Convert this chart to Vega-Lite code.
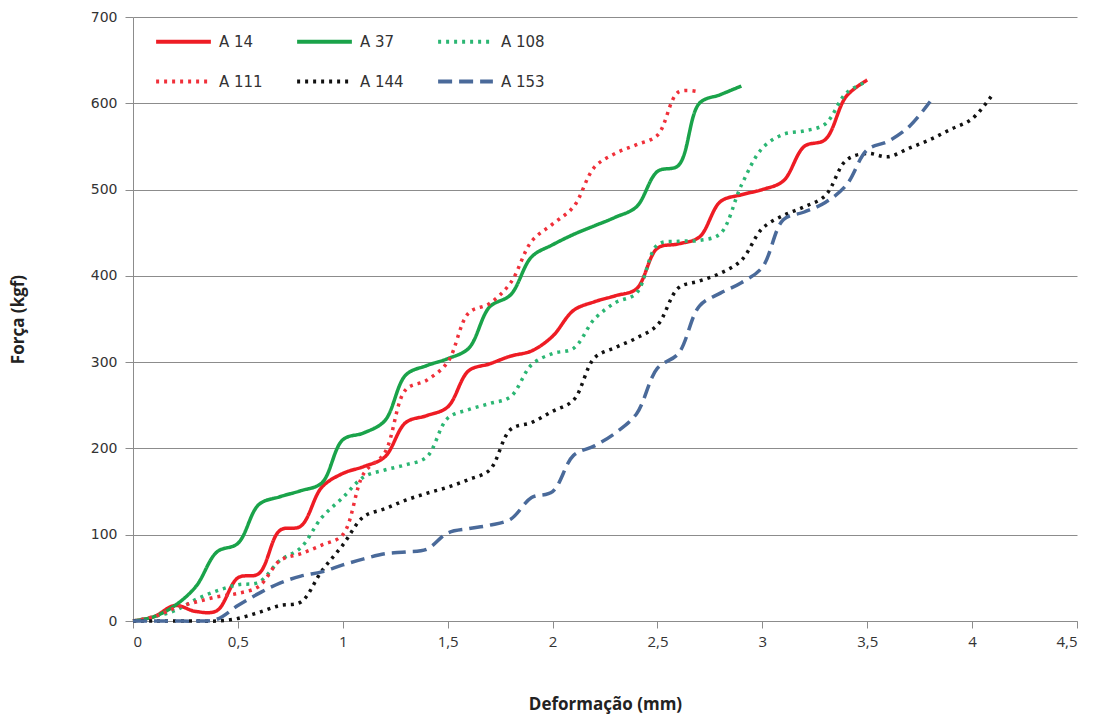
{
  "$schema": "https://vega.github.io/schema/vega-lite/v6.json",
  "width": 944,
  "height": 604,
  "autosize": {"type": "none"},
  "padding": {"left": 133, "top": 17, "right": 18, "bottom": 101},
  "background": "white",
  "config": {"view": {"stroke": null}},
  "data": {"values": [
    {"s":"A 14","x":0,"y":0},{"s":"A 14","x":0.1,"y":5},{"s":"A 14","x":0.2,"y":18},{"s":"A 14","x":0.3,"y":11},{"s":"A 14","x":0.4,"y":12},{"s":"A 14","x":0.5,"y":50},{"s":"A 14","x":0.6,"y":55},{"s":"A 14","x":0.7,"y":105},{"s":"A 14","x":0.8,"y":110},{"s":"A 14","x":0.9,"y":155},{"s":"A 14","x":1.0,"y":171},{"s":"A 14","x":1.1,"y":179},{"s":"A 14","x":1.2,"y":190},{"s":"A 14","x":1.3,"y":230},{"s":"A 14","x":1.4,"y":238},{"s":"A 14","x":1.5,"y":248},{"s":"A 14","x":1.6,"y":290},{"s":"A 14","x":1.7,"y":298},{"s":"A 14","x":1.8,"y":307},{"s":"A 14","x":1.9,"y":313},{"s":"A 14","x":2.0,"y":330},{"s":"A 14","x":2.1,"y":360},{"s":"A 14","x":2.2,"y":370},{"s":"A 14","x":2.3,"y":377},{"s":"A 14","x":2.4,"y":385},{"s":"A 14","x":2.5,"y":432},{"s":"A 14","x":2.6,"y":437},{"s":"A 14","x":2.7,"y":445},{"s":"A 14","x":2.8,"y":486},{"s":"A 14","x":2.9,"y":494},{"s":"A 14","x":3.0,"y":500},{"s":"A 14","x":3.1,"y":510},{"s":"A 14","x":3.2,"y":550},{"s":"A 14","x":3.3,"y":558},{"s":"A 14","x":3.4,"y":608},{"s":"A 14","x":3.5,"y":627},
    {"s":"A 37","x":0,"y":0},{"s":"A 37","x":0.1,"y":5},{"s":"A 37","x":0.2,"y":18},{"s":"A 37","x":0.3,"y":40},{"s":"A 37","x":0.4,"y":80},{"s":"A 37","x":0.5,"y":90},{"s":"A 37","x":0.6,"y":135},{"s":"A 37","x":0.7,"y":144},{"s":"A 37","x":0.8,"y":151},{"s":"A 37","x":0.9,"y":160},{"s":"A 37","x":1.0,"y":210},{"s":"A 37","x":1.1,"y":218},{"s":"A 37","x":1.2,"y":232},{"s":"A 37","x":1.3,"y":285},{"s":"A 37","x":1.4,"y":296},{"s":"A 37","x":1.5,"y":304},{"s":"A 37","x":1.6,"y":316},{"s":"A 37","x":1.7,"y":364},{"s":"A 37","x":1.8,"y":378},{"s":"A 37","x":1.9,"y":422},{"s":"A 37","x":2.0,"y":436},{"s":"A 37","x":2.1,"y":448},{"s":"A 37","x":2.2,"y":458},{"s":"A 37","x":2.3,"y":468},{"s":"A 37","x":2.4,"y":480},{"s":"A 37","x":2.5,"y":521},{"s":"A 37","x":2.6,"y":528},{"s":"A 37","x":2.7,"y":600},{"s":"A 37","x":2.8,"y":610},{"s":"A 37","x":2.9,"y":620},
    {"s":"A 108","x":0,"y":0},{"s":"A 108","x":0.1,"y":5},{"s":"A 108","x":0.2,"y":12},{"s":"A 108","x":0.3,"y":25},{"s":"A 108","x":0.4,"y":35},{"s":"A 108","x":0.5,"y":42},{"s":"A 108","x":0.6,"y":45},{"s":"A 108","x":0.7,"y":70},{"s":"A 108","x":0.8,"y":85},{"s":"A 108","x":0.9,"y":120},{"s":"A 108","x":1.0,"y":143},{"s":"A 108","x":1.1,"y":167},{"s":"A 108","x":1.2,"y":175},{"s":"A 108","x":1.3,"y":181},{"s":"A 108","x":1.4,"y":190},{"s":"A 108","x":1.5,"y":235},{"s":"A 108","x":1.6,"y":245},{"s":"A 108","x":1.7,"y":252},{"s":"A 108","x":1.8,"y":260},{"s":"A 108","x":1.9,"y":297},{"s":"A 108","x":2.0,"y":310},{"s":"A 108","x":2.1,"y":316},{"s":"A 108","x":2.2,"y":350},{"s":"A 108","x":2.3,"y":369},{"s":"A 108","x":2.4,"y":380},{"s":"A 108","x":2.5,"y":436},{"s":"A 108","x":2.6,"y":440},{"s":"A 108","x":2.7,"y":441},{"s":"A 108","x":2.8,"y":449},{"s":"A 108","x":2.9,"y":505},{"s":"A 108","x":3.0,"y":548},{"s":"A 108","x":3.1,"y":564},{"s":"A 108","x":3.2,"y":568},{"s":"A 108","x":3.3,"y":576},{"s":"A 108","x":3.4,"y":612},{"s":"A 108","x":3.5,"y":625},
    {"s":"A 111","x":0,"y":0},{"s":"A 111","x":0.1,"y":5},{"s":"A 111","x":0.2,"y":15},{"s":"A 111","x":0.3,"y":22},{"s":"A 111","x":0.4,"y":28},{"s":"A 111","x":0.5,"y":32},{"s":"A 111","x":0.6,"y":40},{"s":"A 111","x":0.7,"y":70},{"s":"A 111","x":0.8,"y":78},{"s":"A 111","x":0.9,"y":88},{"s":"A 111","x":1.0,"y":100},{"s":"A 111","x":1.1,"y":171},{"s":"A 111","x":1.2,"y":195},{"s":"A 111","x":1.3,"y":268},{"s":"A 111","x":1.4,"y":279},{"s":"A 111","x":1.5,"y":300},{"s":"A 111","x":1.6,"y":357},{"s":"A 111","x":1.7,"y":368},{"s":"A 111","x":1.8,"y":392},{"s":"A 111","x":1.9,"y":440},{"s":"A 111","x":2.0,"y":460},{"s":"A 111","x":2.1,"y":480},{"s":"A 111","x":2.2,"y":526},{"s":"A 111","x":2.3,"y":542},{"s":"A 111","x":2.4,"y":552},{"s":"A 111","x":2.5,"y":563},{"s":"A 111","x":2.6,"y":613},{"s":"A 111","x":2.7,"y":613},
    {"s":"A 144","x":0,"y":0},{"s":"A 144","x":0.1,"y":0},{"s":"A 144","x":0.2,"y":0},{"s":"A 144","x":0.3,"y":0},{"s":"A 144","x":0.4,"y":0},{"s":"A 144","x":0.5,"y":3},{"s":"A 144","x":0.6,"y":10},{"s":"A 144","x":0.7,"y":18},{"s":"A 144","x":0.8,"y":22},{"s":"A 144","x":0.9,"y":58},{"s":"A 144","x":1.0,"y":88},{"s":"A 144","x":1.1,"y":121},{"s":"A 144","x":1.2,"y":130},{"s":"A 144","x":1.3,"y":140},{"s":"A 144","x":1.4,"y":148},{"s":"A 144","x":1.5,"y":155},{"s":"A 144","x":1.6,"y":164},{"s":"A 144","x":1.7,"y":175},{"s":"A 144","x":1.8,"y":222},{"s":"A 144","x":1.9,"y":230},{"s":"A 144","x":2.0,"y":243},{"s":"A 144","x":2.1,"y":256},{"s":"A 144","x":2.2,"y":305},{"s":"A 144","x":2.3,"y":317},{"s":"A 144","x":2.4,"y":328},{"s":"A 144","x":2.5,"y":343},{"s":"A 144","x":2.6,"y":386},{"s":"A 144","x":2.7,"y":394},{"s":"A 144","x":2.8,"y":403},{"s":"A 144","x":2.9,"y":418},{"s":"A 144","x":3.0,"y":455},{"s":"A 144","x":3.1,"y":470},{"s":"A 144","x":3.2,"y":480},{"s":"A 144","x":3.3,"y":493},{"s":"A 144","x":3.4,"y":534},{"s":"A 144","x":3.5,"y":542},{"s":"A 144","x":3.6,"y":538},{"s":"A 144","x":3.7,"y":548},{"s":"A 144","x":3.8,"y":558},{"s":"A 144","x":3.9,"y":570},{"s":"A 144","x":4.0,"y":582},{"s":"A 144","x":4.1,"y":611},
    {"s":"A 153","x":0,"y":0},{"s":"A 153","x":0.1,"y":0},{"s":"A 153","x":0.2,"y":0},{"s":"A 153","x":0.3,"y":0},{"s":"A 153","x":0.4,"y":2},{"s":"A 153","x":0.5,"y":18},{"s":"A 153","x":0.6,"y":32},{"s":"A 153","x":0.7,"y":44},{"s":"A 153","x":0.8,"y":52},{"s":"A 153","x":0.9,"y":57},{"s":"A 153","x":1.0,"y":65},{"s":"A 153","x":1.1,"y":72},{"s":"A 153","x":1.2,"y":78},{"s":"A 153","x":1.3,"y":80},{"s":"A 153","x":1.4,"y":83},{"s":"A 153","x":1.5,"y":102},{"s":"A 153","x":1.6,"y":107},{"s":"A 153","x":1.7,"y":111},{"s":"A 153","x":1.8,"y":118},{"s":"A 153","x":1.9,"y":143},{"s":"A 153","x":2.0,"y":150},{"s":"A 153","x":2.1,"y":192},{"s":"A 153","x":2.2,"y":203},{"s":"A 153","x":2.3,"y":218},{"s":"A 153","x":2.4,"y":240},{"s":"A 153","x":2.5,"y":293},{"s":"A 153","x":2.6,"y":310},{"s":"A 153","x":2.7,"y":365},{"s":"A 153","x":2.8,"y":380},{"s":"A 153","x":2.9,"y":392},{"s":"A 153","x":3.0,"y":410},{"s":"A 153","x":3.1,"y":465},{"s":"A 153","x":3.2,"y":474},{"s":"A 153","x":3.3,"y":485},{"s":"A 153","x":3.4,"y":505},{"s":"A 153","x":3.5,"y":546},{"s":"A 153","x":3.6,"y":556},{"s":"A 153","x":3.7,"y":573},{"s":"A 153","x":3.8,"y":602}
  ]},
  "mark": {"type": "line", "interpolate": "catmull-rom", "strokeWidth": 3.5},
  "encoding": {
    "x": {"field": "x", "type": "quantitative",
      "scale": {"domain": [0, 4.5], "nice": false, "zero": true},
      "axis": {"values": [0,0.5,1,1.5,2,2.5,3,3.5,4,4.5], "grid": false, "title": "Deformação (mm)",
        "labelExpr": "replace(format(datum.value, '~g'), '.', ',')",
        "domainColor": "#8c8c8c", "tickColor": "#8c8c8c", "tickSize": 7,
        "labelFont": "Open Sans", "labelFontSize": 15, "labelColor": "#333333", "labelPadding": 6,
        "titleFont": "Open Sans", "titleFontSize": 17, "titleFontWeight": "bold", "titleColor": "#222222", "titlePadding": 47}},
    "y": {"field": "y", "type": "quantitative",
      "scale": {"domain": [0, 700], "nice": false},
      "axis": {"values": [0,100,200,300,400,500,600,700], "grid": true, "gridColor": "#8c8c8c", "gridWidth": 1,
        "title": "Força (kgf)", "domainColor": "#8c8c8c", "tickColor": "#8c8c8c", "tickSize": 8,
        "labelFont": "DejaVu Sans", "labelFontSize": 14, "labelColor": "#333333", "labelPadding": 8,
        "titleFont": "Open Sans", "titleFontSize": 17, "titleFontWeight": "bold", "titleColor": "#222222", "titlePadding": 63}},
    "color": {"field": "s", "type": "nominal",
      "scale": {"domain": ["A 14","A 37","A 108","A 111","A 144","A 153"],
                "range": ["#ee1c24","#1aa34a","#2bb673","#f0303a","#111111","#4a6a9a"]},
      "legend": {"title": null, "orient": "none", "legendX": 17, "legendY": -9, "columns": 3, "direction": "horizontal", "gridAlign": "all",
        "symbolType": "stroke", "symbolSize": 3000, "symbolStrokeWidth": 4, "columnPadding": 26, "rowPadding": 2,
        "labelFont": "DejaVu Sans", "labelFontSize": 15, "labelColor": "#333333", "labelOffset": 6,
        "padding": 4}},
    "strokeDash": {"field": "s", "type": "nominal",
      "scale": {"domain": ["A 14","A 37","A 108","A 111","A 144","A 153"],
                "range": [[1,0],[1,0],[3,5],[3,5],[3,5],[14,7]]},
      "legend": {"title": null}},
    "order": {"field": "x"}
  }
}
